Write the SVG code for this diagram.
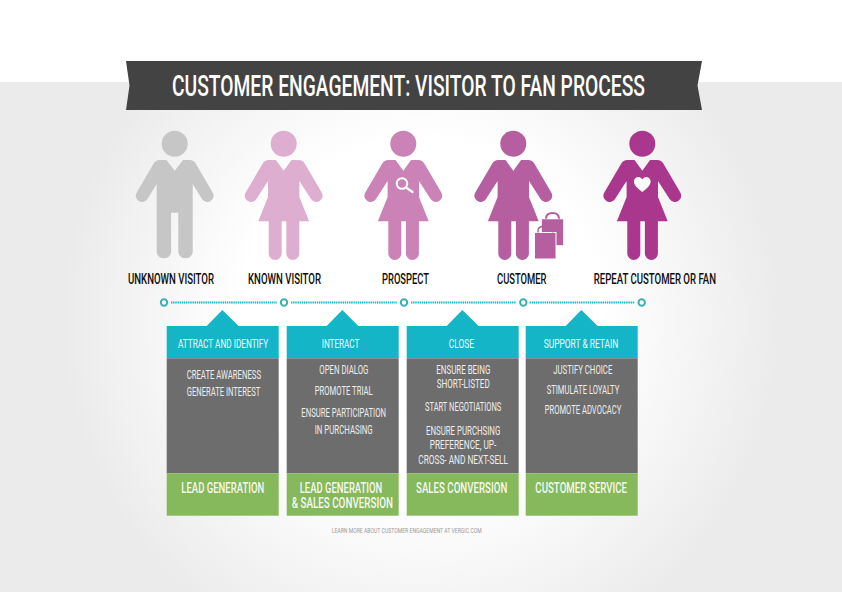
<svg xmlns="http://www.w3.org/2000/svg" xmlns:xlink="http://www.w3.org/1999/xlink" width="842" height="595" viewBox="0 0 842 595">
<style>
text{font-family:"Roboto","Liberation Sans",sans-serif;text-anchor:start}
.title{font-size:29px;font-weight:500;fill:#fff}
.label{font-size:15px;font-weight:500;fill:#0c0c0c}
.head{font-size:13px;fill:#f4f8f9}
.body{font-size:12px;fill:#eeeeee}
.foot{font-size:14px;font-weight:500;fill:#f6f8f2}
.note{font-size:7.5px;fill:#9a9a9a}
.dot{fill:none;stroke:#3eb1ae;stroke-width:2}
.line{stroke:#15b5c8;stroke-width:2;stroke-dasharray:1.4 .75;fill:none}
.teal{fill:#15b5c8}.grey{fill:#6d6d6d}.green{fill:#85b95b}
</style>
<defs>
<radialGradient id="bg" gradientUnits="userSpaceOnUse" cx="421" cy="320" r="360">
<stop offset="0.5" stop-color="#ffffff"/><stop offset="1" stop-color="#ebebeb"/>
</radialGradient>
<path id="man" d="M-8.3 160L-15 160Q-19 160-21 163.5L-38 192.5A6.2 6.2 0 0 0-27.3 199L-18 184L-18 252.5A7.4 7.4 0 0 0-3.6 252.500L-3.6 212.7L3.6 212.7L3.6 252.5A7.4 7.4 0 0 0 18 252.500L18 184L27.3 199A6.2 6.2 0 0 0 38 192.500L21 163.5Q19 160 15 160L8.3 160L0 170.7Z"/>
<path id="woman" d="M-7.800 160L-15 160Q-19 160-21 163.5L-38 192.5A6.2 6.2 0 0 0-27.3 199L-15.700 181L-15.700 197L-25.400 221.300L-15 221.300L-15 253.5A6.4 6.4 0 0 0-2 253.500L-2 221.300L2.600 221.300L2.600 253.500A6.4 6.4 0 0 0 15.600 253.500L15.600 221.300L25.400 221.300L15.700 197L15.700 181L27.3 199A6.2 6.2 0 0 0 38 192.500L21 163.500Q19 160 15 160L7.800 160L0 170.7Z"/>
</defs>
<rect width="842" height="595" fill="#fff"/>
<rect y="82" width="842" height="510" fill="url(#bg)"/>
<g id="banner">
<path d="M126 61L702 61L697.500 85.500L702 110L126 110L129.500 85.500Z" fill="#434343"/>
<text class="title" transform="translate(172 95.500) scale(.66 1)" textLength="716.700" lengthAdjust="spacingAndGlyphs">CUSTOMER ENGAGEMENT: VISITOR TO FAN PROCESS</text>
</g>
<g id="unknown-visitor" fill="#c6c6c6">
<circle cx="174.700" cy="143.700" r="13"/>
<use href="#man" x="174.700"/>
<text class="label" transform="translate(128 284) scale(.66 1)" textLength="130.300" lengthAdjust="spacingAndGlyphs">UNKNOWN VISITOR</text>
</g>
<g id="known-visitor" fill="#ddaed0">
<circle cx="283.700" cy="143.700" r="13"/>
<use href="#woman" x="283.700"/>
<text class="label" transform="translate(248 284) scale(.66 1)" textLength="110.600" lengthAdjust="spacingAndGlyphs">KNOWN VISITOR</text>
</g>
<g id="prospect" fill="#cb82b6">
<circle cx="403.300" cy="143.700" r="13"/>
<use href="#woman" x="403.300"/>
<circle cx="402" cy="183.500" r="5.300" fill="none" stroke="#fff" stroke-width="2"/>
<path d="M406 187.500L412.500 192" fill="none" stroke="#fff" stroke-width="2.200" stroke-linecap="round"/>
<text class="label" transform="translate(382 284) scale(.66 1)" textLength="71.200" lengthAdjust="spacingAndGlyphs">PROSPECT</text>
</g>
<g id="customer" fill="#b55fa0">
<circle cx="513.300" cy="143.700" r="13"/>
<use href="#woman" x="513.300"/>
<path d="M546 219Q546 213 552.500 213Q559 213 559 219" fill="none" stroke="#b55fa0" stroke-width="2"/>
<rect x="541.700" y="219" width="21.600" height="26.300" stroke="#fff" stroke-width="0.500"/>
<rect x="534.500" y="232.500" width="21.500" height="26.500" stroke="#fff" stroke-width="1"/>
<path d="M538 232.500L538 231Q538 226.500 543 226.500L548 226.500Q553 226.500 553 231L553 232.500" fill="none" stroke="#b55fa0" stroke-width="1.500"/>
<text class="label" transform="translate(497 284) scale(.66 1)" textLength="75" lengthAdjust="spacingAndGlyphs">CUSTOMER</text>
</g>
<g id="repeat-customer" fill="#a9378d">
<circle cx="642.300" cy="143.700" r="13"/>
<use href="#woman" x="642.300"/>
<path d="M642.300 192C638 188.500 634 185.500 634 181.500C634 178.500 636.200 177 638.300 177C640 177 641.500 178 642.300 179.500C643.100 178 644.600 177 646.300 177C648.400 177 650.600 178.500 650.600 181.500C650.600 185.500 646.600 188.500 642.300 192Z" fill="#fff"/>
<text class="label" transform="translate(593.700 284) scale(.66 1)" textLength="185.300" lengthAdjust="spacingAndGlyphs">REPEAT CUSTOMER OR FAN</text>
</g>
<g id="connectors">
<path class="line" d="M171 302.500H277M291 302.500H397M411 302.500H516.500M529.500 302.500H635"/>
<circle class="dot" cx="164" cy="302.500" r="3.200"/>
<circle class="dot" cx="284" cy="302.500" r="3.200"/>
<circle class="dot" cx="404" cy="302.500" r="3.200"/>
<circle class="dot" cx="523.300" cy="302.500" r="3.200"/>
<circle class="dot" cx="641.700" cy="302.500" r="3.200"/>
</g>
<g id="card-attract">
<path class="teal" d="M166.700 326H206.700L222.300 310L238.700 326H278.700V358.300H166.700Z"/>
<rect class="grey" x="166.700" y="358.300" width="112" height="115"/>
<rect class="green" x="166.700" y="473.300" width="112" height="42.400"/>
<text class="head" x="178" y="348" textLength="90.300" lengthAdjust="spacingAndGlyphs">ATTRACT AND IDENTIFY</text>
<text class="body" x="186.700" y="379.300" textLength="74.300" lengthAdjust="spacingAndGlyphs">CREATE AWARENESS</text>
<text class="body" x="186.700" y="396" textLength="73.600" lengthAdjust="spacingAndGlyphs">GENERATE INTEREST</text>
<text class="foot" x="181.300" y="492.700" textLength="83" lengthAdjust="spacingAndGlyphs">LEAD GENERATION</text>
</g>
<g id="card-interact">
<path class="teal" d="M286.700 326H326.700L342.300 310L358.300 326H398.700V358.300H286.700Z"/>
<rect class="grey" x="286.700" y="358.300" width="112" height="115"/>
<rect class="green" x="286.700" y="473.300" width="112" height="42.400"/>
<text class="head" x="321.700" y="348" textLength="37.600" lengthAdjust="spacingAndGlyphs">INTERACT</text>
<text class="body" x="319.300" y="373.700" textLength="49" lengthAdjust="spacingAndGlyphs">OPEN DIALOG</text>
<text class="body" x="314.700" y="395.300" textLength="58" lengthAdjust="spacingAndGlyphs">PROMOTE TRIAL</text>
<text class="body" x="301.300" y="417" textLength="84.700" lengthAdjust="spacingAndGlyphs">ENSURE PARTICIPATION</text>
<text class="body" x="314.700" y="433.700" textLength="58" lengthAdjust="spacingAndGlyphs">IN PURCHASING</text>
<text class="foot" x="299.700" y="492.700" textLength="82.600" lengthAdjust="spacingAndGlyphs">LEAD GENERATION</text>
<text class="foot" x="291.700" y="508" textLength="101.300" lengthAdjust="spacingAndGlyphs">&amp; SALES CONVERSION</text>
</g>
<g id="card-close">
<path class="teal" d="M406.700 326H446.700L462.300 310L478.700 326H518.700V358.300H406.700Z"/>
<rect class="grey" x="406.700" y="358.300" width="112" height="115"/>
<rect class="green" x="406.700" y="473.300" width="112" height="42.400"/>
<text class="head" x="448.700" y="348" textLength="25.300" lengthAdjust="spacingAndGlyphs">CLOSE</text>
<text class="body" x="436.300" y="373.700" textLength="54" lengthAdjust="spacingAndGlyphs">ENSURE BEING</text>
<text class="body" x="436.700" y="388" textLength="53" lengthAdjust="spacingAndGlyphs">SHORT-LISTED</text>
<text class="body" x="425" y="411.300" textLength="76.300" lengthAdjust="spacingAndGlyphs">START NEGOTIATIONS</text>
<text class="body" x="426" y="435" textLength="74.300" lengthAdjust="spacingAndGlyphs">ENSURE PURCHSING</text>
<text class="body" x="429.700" y="449.300" textLength="66.600" lengthAdjust="spacingAndGlyphs">PREFERENCE, UP-</text>
<text class="body" x="418.300" y="463.700" textLength="89.700" lengthAdjust="spacingAndGlyphs">CROSS- AND NEXT-SELL</text>
<text class="foot" x="416" y="492.700" textLength="91.300" lengthAdjust="spacingAndGlyphs">SALES CONVERSION</text>
</g>
<g id="card-support">
<path class="teal" d="M525.700 326H565.700L581.300 310L597.700 326H637.700V358.300H525.700Z"/>
<rect class="grey" x="525.700" y="358.300" width="112" height="115"/>
<rect class="green" x="525.700" y="473.300" width="112" height="42.400"/>
<text class="head" x="543.700" y="348" textLength="74.600" lengthAdjust="spacingAndGlyphs">SUPPORT &amp; RETAIN</text>
<text class="body" x="553.300" y="373.700" textLength="59" lengthAdjust="spacingAndGlyphs">JUSTIFY CHOICE</text>
<text class="body" x="546.700" y="393.700" textLength="72.600" lengthAdjust="spacingAndGlyphs">STIMULATE LOYALTY</text>
<text class="body" x="544.700" y="414.300" textLength="76.600" lengthAdjust="spacingAndGlyphs">PROMOTE ADVOCACY</text>
<text class="foot" x="535.300" y="492.700" textLength="91.700" lengthAdjust="spacingAndGlyphs">CUSTOMER SERVICE</text>
</g>
<text class="note" x="331.700" y="532.700" textLength="150" lengthAdjust="spacingAndGlyphs">LEARN MORE ABOUT CUSTOMER ENGAGEMENT AT VERGIC.COM</text>
</svg>
